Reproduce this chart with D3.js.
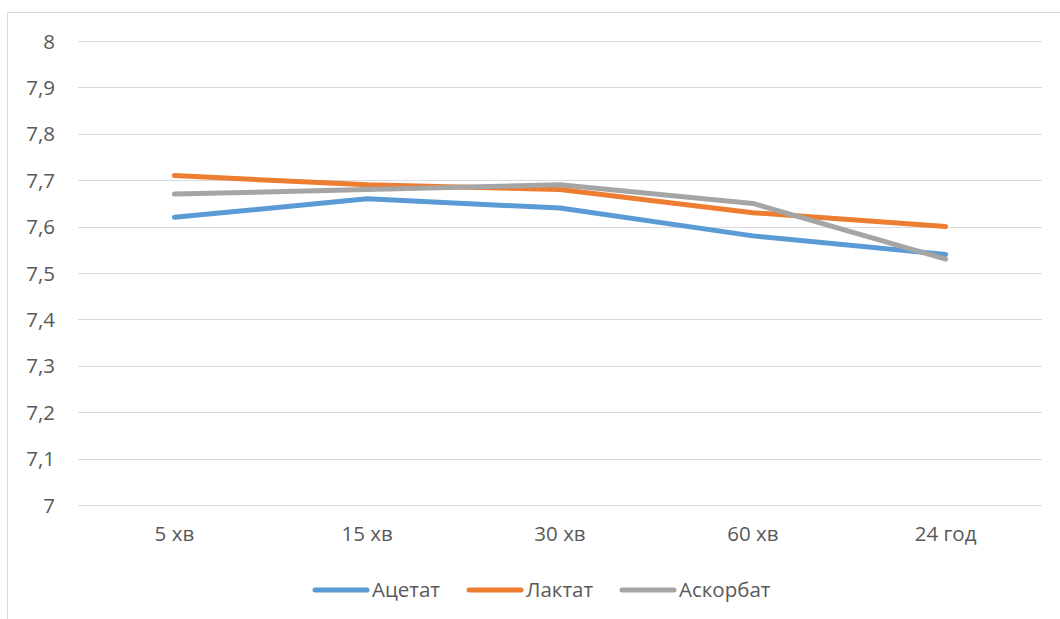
<!DOCTYPE html>
<html><head><meta charset="utf-8">
<script src="https://cdn.jsdelivr.net/npm/d3@7"></script>
<style>
html,body{margin:0;padding:0;background:#fff;}
svg text{font-family:"Open Sans",sans-serif;fill:#595959;}
</style></head>
<body>
<svg id="chart" width="1060" height="619"></svg>
<script>
const categories = ["5 хв","15 хв","30 хв","60 хв","24 год"];
const seriesNames = ["Ацетат","Лактат","Аскорбат"];
const acetate = [7.62, 7.66, 7.64, 7.58, 7.54];
const lactate = [7.71, 7.69, 7.68, 7.63, 7.60];
const ascorbate = [7.67, 7.68, 7.69, 7.65, 7.53];
const yTicks = [7, 7.1, 7.2, 7.3, 7.4, 7.5, 7.6, 7.7, 7.8, 7.9, 8];
const colors = ["#5B9BD5", "#ED7D31", "#A5A5A5"];

const series = [acetate, lactate, ascorbate].map((v,i)=>({name: seriesNames[i], values: v, color: colors[i]}));

const svg = d3.select("#chart");
const plotL = 78, plotR = 1042, plotT = 41, plotB = 505;
const FS = "20.5px";

// outer border (top and left)
svg.append("line").attr("x1",7.5).attr("x2",1060).attr("y1",12.5).attr("y2",12.5).attr("stroke","#d9d9d9").attr("stroke-width",1);
svg.append("line").attr("x1",7.5).attr("x2",7.5).attr("y1",12.5).attr("y2",619).attr("stroke","#d9d9d9").attr("stroke-width",1);

const x = d3.scaleBand().domain(categories).range([plotL, plotR]);
const y = d3.scaleLinear().domain([7, 8]).range([plotB, plotT]);
const fmt = d => d3.format(".1f")(d).replace(".", ",").replace(",0","");

// gridlines
svg.append("g").selectAll("line").data(yTicks).join("line")
  .attr("x1", plotL).attr("x2", plotR)
  .attr("y1", d => Math.round(y(d)) + 0.5).attr("y2", d => Math.round(y(d)) + 0.5)
  .attr("stroke", "#d9d9d9").attr("stroke-width", 1.2);

// y axis labels
const yAxis = d3.axisLeft(y).tickValues(yTicks).tickFormat(fmt).tickSize(0).tickPadding(0);
const gy = svg.append("g").attr("transform", `translate(55,0)`).call(yAxis);
gy.select(".domain").remove();
gy.selectAll("text").style("font-size",FS).attr("fill","#595959").attr("dy","0.35em");

// x axis labels
const xAxis = d3.axisBottom(x).tickSize(0).tickPadding(0);
const gx = svg.append("g").attr("transform", `translate(0,${plotB + 21})`).call(xAxis);
gx.select(".domain").remove();
gx.selectAll("text").style("font-size",FS).attr("fill","#595959").attr("dy","0.71em");

// lines
const line = d3.line().x((d,i) => x(categories[i]) + x.bandwidth()/2).y(d => y(d));
svg.append("g").selectAll("path").data(series).join("path")
  .attr("d", d => line(d.values))
  .attr("fill","none").attr("stroke", d => d.color)
  .attr("stroke-width", 5).attr("stroke-linecap","round").attr("stroke-linejoin","round");

// legend
const legendX = [313, 467, 620];
const lg = svg.append("g").selectAll("g").data(series).join("g")
  .attr("transform", (d,i) => `translate(${legendX[i]},590)`);
lg.append("line").attr("x1",2).attr("x2",54).attr("y1",0).attr("y2",0)
  .attr("stroke", d => d.color).attr("stroke-width",5).attr("stroke-linecap","round");
lg.append("text").attr("x",59).attr("y",0).attr("dy","0.35em")
  .style("font-size",FS).text(d => d.name);
</script>
</body></html>
